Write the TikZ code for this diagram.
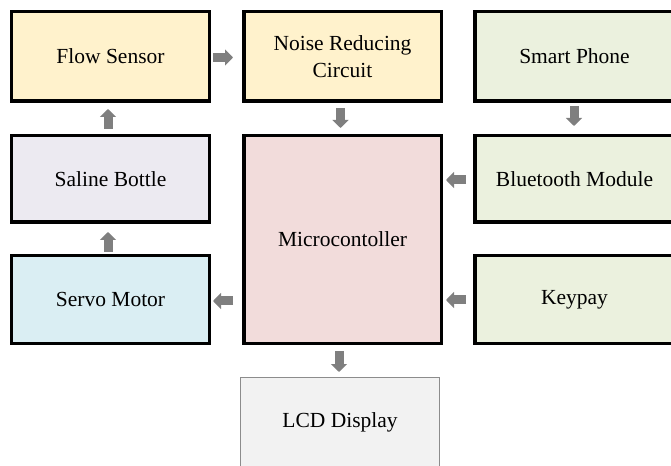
\documentclass[tikz,border=0pt]{standalone}
\usepackage{fontspec}
\setmainfont{Liberation Serif}
\usetikzlibrary{arrows.meta,calc}
\definecolor{cyellow}{HTML}{FFF2CC}
\definecolor{cgreen}{HTML}{EBF1DE}
\definecolor{clav}{HTML}{ECEAF1}
\definecolor{cblue}{HTML}{DAEEF3}
\definecolor{cpink}{HTML}{F2DCDB}
\definecolor{clcd}{HTML}{F2F2F2}
\definecolor{carrow}{HTML}{7F7F7F}
\definecolor{clcdborder}{HTML}{8C8C8C}
\begin{document}
\begin{tikzpicture}[x=1bp,y=-1bp,
  blk/.style={draw=black,line width=3.5bp,inner sep=0pt,align=center,
    font=\fontsize{21.5bp}{27.5bp}\selectfont},
  lcdbox/.style={draw=clcdborder,line width=1.2bp,fill=clcd,inner sep=0pt,align=center,
    font=\fontsize{21.5bp}{27.5bp}\selectfont},
  blockarrow/.style={draw=carrow,line width=9bp,
    -{Triangle[width=16bp,length=8bp,fill=carrow]}}]
\useasboundingbox (0,0) rectangle (671,466);
\clip (0,0) rectangle (671,466);
% boxes (min sizes = outer size - line width)
\node[blk,fill=cyellow,minimum width=197.5bp,minimum height=89.5bp] (flow) at (110.5,56.5) {Flow Sensor};
\node[blk,fill=cyellow,minimum width=197.5bp,minimum height=89.5bp] (noise) at (342.5,56.5) {Noise Reducing\\Circuit};
\node[blk,fill=cgreen,minimum width=199.5bp,minimum height=89.5bp] (smart) at (574.5,56.5) {Smart Phone};
\node[blk,fill=clav,minimum width=197.5bp,minimum height=86.5bp] (saline) at (110.5,179) {Saline Bottle};
\node[blk,fill=cpink,minimum width=197.5bp,minimum height=207.5bp] (micro) at (342.5,239.5) {Microcontoller};
\node[blk,fill=cgreen,minimum width=199.5bp,minimum height=86.5bp] (bt) at (574.5,179) {Bluetooth Module};
\node[blk,fill=cblue,minimum width=197.5bp,minimum height=87.5bp] (servo) at (110.5,299.5) {Servo Motor};
\node[blk,fill=cgreen,minimum width=199.5bp,minimum height=87.5bp] (keypay) at (574.5,299.5) {Keypay};
\node[lcdbox,minimum width=198.8bp,minimum height=89.8bp] (lcd) at (340,422.5) {LCD Display};
% arrows
\draw[blockarrow] ($(flow.east)+(2,1)$) -- ($(noise.west)+(-9,1)$);
\draw[blockarrow] ($(noise.south)+(-2,5)$) -- ($(micro.north)+(-2,-6)$);
\draw[blockarrow] ($(smart.south)+(-0.5,3)$) -- ($(bt.north)+(-0.5,-8)$);
\draw[blockarrow] ($(bt.west)+(-7,1)$) -- ($(micro.east |- bt.west)+(3,1)$);
\draw[blockarrow] ($(keypay.west)+(-7,0.5)$) -- ($(micro.east |- keypay.west)+(3,0.5)$);
\draw[blockarrow] ($(micro.west |- servo.east)+(-9,1.5)$) -- ($(servo.east)+(2,1.5)$);
\draw[blockarrow] ($(servo.north)+(-2.5,-2)$) -- ($(saline.south)+(-2.5,8)$);
\draw[blockarrow] ($(saline.north)+(-2.5,-5)$) -- ($(flow.south)+(-2.5,6)$);
\draw[blockarrow] ($(micro.south)+(-3.5,6)$) -- ($(lcd.north)+(-1,-5)$);
\end{tikzpicture}
\end{document}
